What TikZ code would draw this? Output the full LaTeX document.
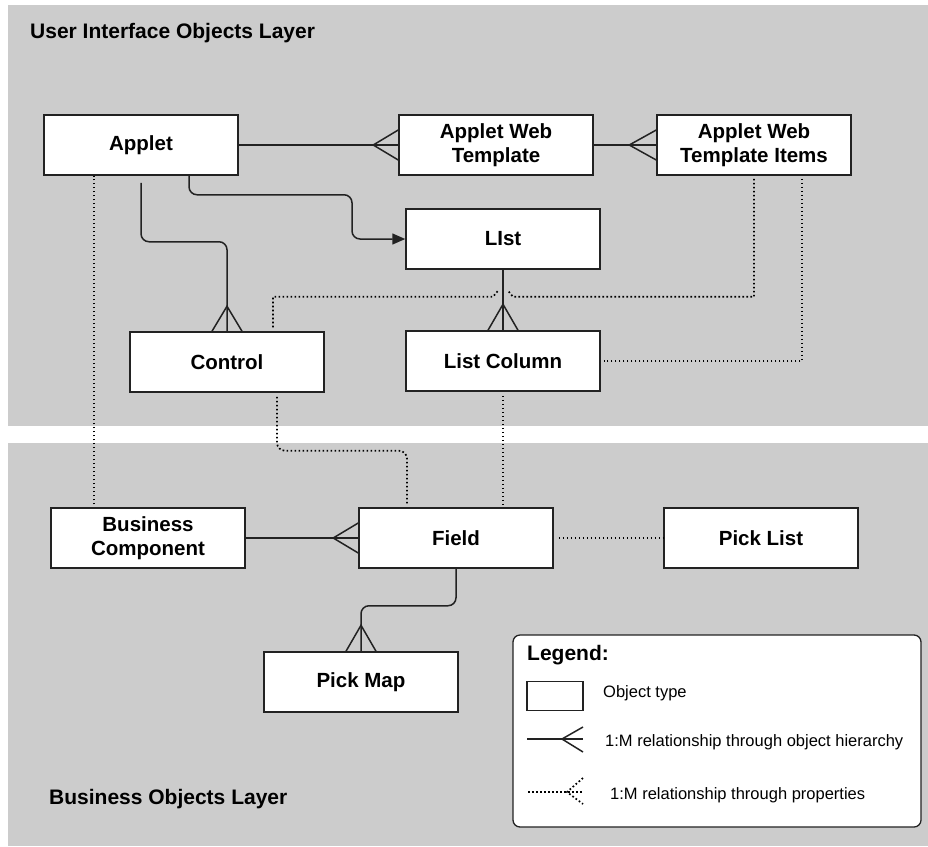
\documentclass[tikz,border=0pt]{standalone}
\usepackage{fontspec}
\setmainfont{Liberation Sans}
\usetikzlibrary{arrows.meta,positioning}

\definecolor{layergray}{HTML}{CCCCCC}
\definecolor{boxline}{HTML}{222222}

\tikzstyle{block} = [rectangle, draw=boxline, fill=white, line width=1.5pt, text centered, align=center, minimum width=194pt, minimum height=60pt, inner sep=0pt, font=\bfseries\fontsize{20.5}{24.5}\selectfont]
\tikzstyle{line} = [draw=boxline, line width=1.5pt]
\tikzstyle{prop} = [draw=black, line width=1.7pt, dash pattern=on 1.7pt off 2.3pt]
\tikzstyle{layer} = [fill=layergray]
\tikzstyle{title} = [anchor=west, inner sep=0pt, font=\bfseries\fontsize{21}{24}\selectfont]
\tikzstyle{legendtext} = [anchor=west, inner sep=0pt, font=\fontsize{16.5}{19}\selectfont]

\begin{document}
\begin{tikzpicture}[x=1pt, y=1pt, node distance=2cm]
    \useasboundingbox (0,0) rectangle (928,-846);

    % Layers
    \fill[layer] (8,-5) rectangle (928,-426);
    \fill[layer] (8,-443) rectangle (928,-846);
    \node [title] (uilayer) at (30,-33) {User Interface Objects Layer};
    \node [title] (bolayer) at (49,-799) {Business Objects Layer};

    % Place nodes
    \node [block] (applet) at (141,-145) {Applet};
    \node [block, right of=applet, node distance=355pt] (awt) {Applet Web\\Template};
    \node [block, right of=awt, node distance=258pt] (awti) {Applet Web\\Template Items};
    \node [block] (list) at (503,-239) {LIst};
    \node [block, below of=list, node distance=122pt] (listcol) {List Column};
    \node [block] (control) at (227,-362) {Control};
    \node [block] (bc) at (148,-538) {Business\\Component};
    \node [block, right of=bc, node distance=308pt] (field) {Field};
    \node [block, right of=field, node distance=305pt] (picklist) {Pick List};
    \node [block] (pickmap) at (361,-682) {Pick Map};

    % Draw edges
    \path [line] (applet) -- (awt);
    \path [line] ([yshift=15pt]awt.west) -- ++(-25,-15) -- ([yshift=-15pt]awt.west);
    \path [line] (awt) -- (awti);
    \path [line] ([yshift=15pt]awti.west) -- ++(-27,-15) -- ([yshift=-15pt]awti.west);
    \path [line, rounded corners=8pt, shorten <=7pt] (applet.south) -- ++(0,-66) -| (control.north);
    \path [line] ([xshift=-15pt]control.north) -- ++(15,25) -- ([xshift=15pt]control.north);
    \path [line, rounded corners=8pt, -{Triangle[length=13pt,width=11pt]}] ([xshift=48pt]applet.south) -- ++(0,-19) -- ++(163,0) |- (list.west);
    \path [line] (list) -- (listcol);
    \path [line] ([xshift=-15pt]listcol.north) -- ++(15,26) -- ([xshift=15pt]listcol.north);
    \path [line] (bc) -- (field);
    \path [line] ([yshift=15pt]field.west) -- ++(-25,-15) -- ([yshift=-15pt]field.west);
    \path [line, rounded corners=8pt] (field.south) -- ++(0,-37) -| (pickmap.north);
    \path [line] ([xshift=-15pt]pickmap.north) -- ++(15,26) -- ([xshift=15pt]pickmap.north);

    % Property links
    \path [prop, shorten <=3pt] ([xshift=-54pt]bc.north) -- ([xshift=-54pt]bc.north |- applet.south);
    \path [prop, shorten <=4pt] ([xshift=46pt]control.north) |- ([shift={(-10,-27)}]list.south) -- ([shift={(-5,-21)}]list.south);
    \path [prop, shorten <=3pt] (awti.south) |- ([shift={(10,-27)}]list.south) -- ([shift={(5,-21)}]list.south);
    \path [prop, shorten <=3pt, shorten >=3pt] ([xshift=48pt]awti.south) |- (listcol.east);
    \path [prop, rounded corners=8pt, shorten <=4pt, shorten >=3pt] ([xshift=50pt]control.south) -- ++(0,-58) -| ([xshift=-49pt]field.north);
    \path [prop, shorten <=4pt, shorten >=3pt] (listcol.south) -- (listcol.south |- field.north);
    \path [prop, shorten <=5pt] (field) -- (picklist);

    % Legend
    \node [draw=boxline, fill=white, line width=1.3pt, rounded corners=7pt, minimum width=408pt, minimum height=192pt] (legend) at (717,-731) {};
    \node [anchor=base west, inner sep=0pt, font=\bfseries\fontsize{21}{24}\selectfont] (legendtitle) at (527,-660) {Legend:};
    \node [draw=boxline, line width=1.3pt, minimum width=56pt, minimum height=29pt] (sample) at (555,-696) {};
    \node [legendtext] (objtype) at (603,-693) {Object type};
    \coordinate (solidL) at (527,-739);
    \coordinate (solidR) at (583,-739);
    \path [line] (solidL) -- (solidR);
    \path [line] ([yshift=12pt]solidR) -- ++(-21,-12) -- ([yshift=-13pt]solidR);
    \node [legendtext] (hier) at (605,-742) {1:M relationship through object hierarchy};
    \coordinate (dotL) at (528,-792);
    \coordinate (dotR) at (583,-792);
    \path [prop] (dotL) -- (dotR);
    \path [prop] ([yshift=14pt]dotR) -- ++(-16,-14) -- ([yshift=-12pt]dotR);
    \node [legendtext] (props) at (610,-795) {1:M relationship through properties};
\end{tikzpicture}
\end{document}
